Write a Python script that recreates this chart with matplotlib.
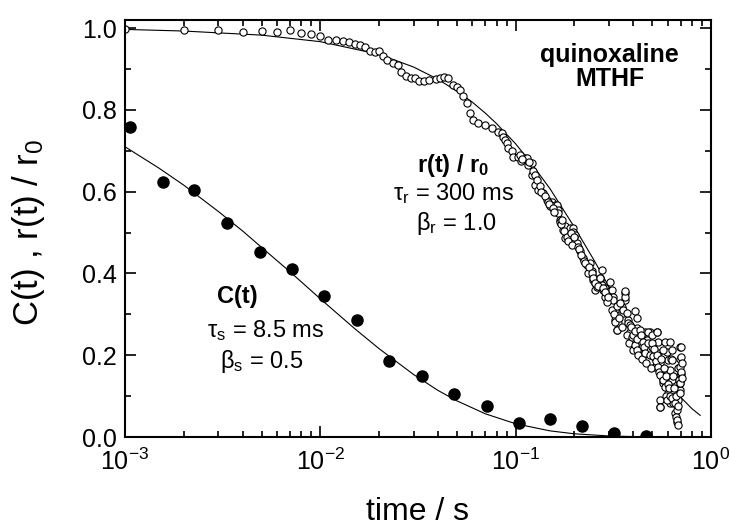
import matplotlib
matplotlib.use('Agg')
import matplotlib.pyplot as plt
from matplotlib.ticker import LogLocator, MultipleLocator, NullFormatter, FormatStrFormatter

plt.rcParams['font.family'] = ['Liberation Sans', 'DejaVu Sans']
plt.rcParams['mathtext.fontset'] = 'custom'
plt.rcParams['mathtext.rm'] = 'Liberation Sans'
plt.rcParams['mathtext.it'] = 'Liberation Sans:italic'
plt.rcParams['mathtext.bf'] = 'Liberation Sans:bold'
plt.rcParams['mathtext.default'] = 'regular'

# C(t): filled circles
c_t = [0.00106, 0.00157, 0.00225, 0.00333, 0.0049, 0.0072, 0.01045, 0.01535,
       0.0225, 0.033, 0.0483, 0.0711, 0.1045, 0.150, 0.219, 0.318, 0.463]
c_val = [0.758, 0.624, 0.604, 0.524, 0.453, 0.412, 0.345, 0.286,
         0.187, 0.149, 0.104, 0.077, 0.035, 0.043, 0.028, 0.009, 0.003]

# r(t)/r0: open circles, main trace
r_t = [0.001, 0.002, 0.003, 0.004, 0.005, 0.006, 0.007, 0.008, 0.009, 0.010,
       0.011, 0.012, 0.013, 0.014, 0.015, 0.016, 0.017, 0.018, 0.019, 0.020,
       0.021, 0.022, 0.0235, 0.025, 0.026, 0.0275, 0.029, 0.0305, 0.032, 0.034,
       0.036, 0.039, 0.041, 0.043, 0.045, 0.0478, 0.050, 0.0519, 0.0537, 0.0561,
       0.0584, 0.0605, 0.0641, 0.0697, 0.0754, 0.0812, 0.0848, 0.0861, 0.0882, 0.0900,
       0.0914, 0.0955, 0.0969, 0.1028, 0.1117, 0.114, 0.1157, 0.1208, 0.1208, 0.1256,
       0.130, 0.138, 0.144, 0.150, 0.153, 0.159, 0.162, 0.165, 0.165, 0.169,
       0.169, 0.1747, 0.179, 0.179, 0.1853, 0.190, 0.1966, 0.1966, 0.2013, 0.2053,
       0.2135, 0.2212, 0.2311, 0.2402, 0.245, 0.2451, 0.2489, 0.255, 0.255, 0.260,
       0.270, 0.2703, 0.2757, 0.276, 0.280, 0.2867, 0.287, 0.304, 0.304, 0.310,
       0.315, 0.316, 0.323, 0.323, 0.329, 0.336, 0.349, 0.356, 0.363, 0.363,
       0.363, 0.378, 0.385, 0.393, 0.400, 0.408, 0.417, 0.417, 0.433, 0.442,
       0.451, 0.460, 0.469, 0.488, 0.497, 0.507, 0.517, 0.527, 0.537, 0.537,
       0.548, 0.548, 0.548, 0.559, 0.570, 0.570, 0.582, 0.593, 0.593, 0.604,
       0.604, 0.617, 0.617, 0.629, 0.629, 0.641, 0.641, 0.654, 0.667, 0.667,
       0.681, 0.681, 0.694, 0.694, 0.694, 0.694, 0.694]
r_val = [0.997, 0.995, 0.995, 0.990, 0.994, 0.990, 0.996, 0.988, 0.985, 0.981,
         0.972, 0.970, 0.968, 0.965, 0.962, 0.958, 0.953, 0.945, 0.941, 0.943,
         0.931, 0.923, 0.915, 0.909, 0.894, 0.884, 0.878, 0.878, 0.871, 0.870,
         0.874, 0.876, 0.879, 0.880, 0.877, 0.861, 0.855, 0.849, 0.833, 0.817,
         0.793, 0.776, 0.768, 0.764, 0.756, 0.747, 0.743, 0.735, 0.727, 0.720,
         0.707, 0.700, 0.686, 0.685, 0.682, 0.683, 0.666, 0.671, 0.641, 0.617,
         0.605, 0.597, 0.580, 0.564, 0.576, 0.568, 0.568, 0.556, 0.548, 0.531,
         0.527, 0.507, 0.515, 0.486, 0.499, 0.512, 0.511, 0.502, 0.494, 0.474,
         0.454, 0.438, 0.421, 0.426, 0.396, 0.405, 0.384, 0.376, 0.360, 0.368,
         0.388, 0.384, 0.409, 0.372, 0.360, 0.343, 0.364, 0.380, 0.356, 0.360,
         0.343, 0.335, 0.311, 0.286, 0.262, 0.278, 0.319, 0.303, 0.352, 0.335,
         0.343, 0.286, 0.258, 0.237, 0.213, 0.307, 0.291, 0.266, 0.245, 0.221,
         0.201, 0.258, 0.237, 0.258, 0.221, 0.197, 0.172, 0.258, 0.233, 0.205,
         0.180, 0.091, 0.074, 0.156, 0.131, 0.139, 0.233, 0.209, 0.164, 0.188,
         0.107, 0.164, 0.082, 0.213, 0.139, 0.115, 0.082, 0.058, 0.037, 0.066,
         0.168, 0.091, 0.139, 0.115, 0.152, 0.131, 0.220]

# r(t)/r0: extra circles in the noisy tail and along the band
r_t_tail = [0.105, 0.106, 0.108, 0.117, 0.123, 0.125, 0.128, 0.133, 0.134, 0.141,
            0.147, 0.148, 0.156, 0.158, 0.171, 0.172, 0.177, 0.183, 0.186, 0.193,
            0.195, 0.199, 0.208, 0.210, 0.217, 0.225, 0.2265, 0.235, 0.236, 0.245,
            0.250, 0.255, 0.265, 0.270, 0.281, 0.285, 0.295, 0.298, 0.310, 0.320,
            0.323, 0.329, 0.330, 0.340, 0.342, 0.350, 0.355, 0.363, 0.370, 0.370,
            0.375, 0.380, 0.385, 0.390, 0.393, 0.400, 0.408, 0.410, 0.417, 0.420,
            0.425, 0.433, 0.440, 0.445, 0.451, 0.455, 0.460, 0.465, 0.475, 0.478,
            0.485, 0.490, 0.497, 0.500, 0.507, 0.510, 0.520, 0.527, 0.530, 0.537,
            0.540, 0.548, 0.548, 0.555, 0.565, 0.570, 0.575, 0.582, 0.585, 0.590,
            0.593, 0.600, 0.610, 0.617, 0.620, 0.625, 0.629, 0.635, 0.641, 0.645,
            0.654, 0.660, 0.660, 0.667, 0.675, 0.681, 0.685, 0.690, 0.694, 0.694,
            0.694, 0.700, 0.705, 0.705, 0.705, 0.712, 0.712]
r_val_tail = [0.690, 0.675, 0.680, 0.672, 0.650, 0.640, 0.628, 0.615, 0.600, 0.590,
              0.575, 0.570, 0.560, 0.550, 0.520, 0.530, 0.505, 0.490, 0.480, 0.500,
              0.470, 0.490, 0.465, 0.460, 0.445, 0.430, 0.425, 0.400, 0.415, 0.400,
              0.390, 0.376, 0.370, 0.388, 0.364, 0.355, 0.330, 0.343, 0.311, 0.300,
              0.282, 0.262, 0.320, 0.290, 0.327, 0.270, 0.310, 0.356, 0.303, 0.250,
              0.280, 0.230, 0.274, 0.270, 0.245, 0.250, 0.225, 0.260, 0.213, 0.240,
              0.200, 0.262, 0.250, 0.190, 0.233, 0.220, 0.205, 0.180, 0.230, 0.258,
              0.200, 0.170, 0.229, 0.250, 0.197, 0.215, 0.185, 0.258, 0.200, 0.172,
              0.160, 0.152, 0.074, 0.190, 0.140, 0.213, 0.170, 0.123, 0.150, 0.100,
              0.091, 0.130, 0.120, 0.233, 0.100, 0.190, 0.188, 0.095, 0.148, 0.120,
              0.082, 0.100, 0.050, 0.042, 0.075, 0.029, 0.140, 0.190, 0.172, 0.131,
              0.107, 0.155, 0.220, 0.195, 0.160, 0.180, 0.145]

# fitted curves
cfit_t = [0.001, 0.0015, 0.002, 0.003, 0.004, 0.005, 0.007, 0.01, 0.015, 0.02,
          0.03, 0.04, 0.05, 0.07, 0.1, 0.15, 0.2, 0.3, 0.4, 0.5]
cfit_val = [0.710, 0.657, 0.616, 0.552, 0.504, 0.464, 0.404, 0.338, 0.265, 0.216,
            0.153, 0.114, 0.0885, 0.0567, 0.0324, 0.015, 0.0078, 0.0026, 0.001, 0.0004]

rfit_t = [0.001, 0.002, 0.005, 0.01, 0.02, 0.03, 0.04, 0.05, 0.06, 0.07, 0.08,
          0.1, 0.12, 0.15, 0.2, 0.25, 0.3, 0.35, 0.4, 0.5, 0.6, 0.7, 0.8, 0.88]
rfit_val = [0.997, 0.993, 0.983, 0.967, 0.936, 0.905, 0.875, 0.846, 0.819, 0.792, 0.766,
            0.717, 0.670, 0.607, 0.513, 0.435, 0.368, 0.311, 0.264, 0.189, 0.135, 0.097, 0.069, 0.053]

fig = plt.figure(figsize=(7.3, 5.29), dpi=100)
ax = fig.add_axes([0.1712, 0.1739, 0.8028, 0.7883])

ax.plot(cfit_t, cfit_val, color='black', lw=0.8)
ax.plot(rfit_t, rfit_val, color='black', lw=0.8)
ax.plot(c_t, c_val, 'o', color='black', ms=8)
ax.plot(r_t + r_t_tail, r_val + r_val_tail, 'o', mfc='white', mec='black', mew=0.8, ms=5.2)

ax.set_xscale('log')
ax.set_xlim(1e-3, 1)
ax.set_ylim(0, 1.02)
ax.yaxis.set_major_locator(MultipleLocator(0.2))
ax.yaxis.set_minor_locator(MultipleLocator(0.1))
ax.yaxis.set_major_formatter(FormatStrFormatter('%.1f'))
ax.xaxis.set_major_locator(LogLocator(base=10))
ax.xaxis.set_minor_locator(LogLocator(base=10, subs=range(2, 10)))
ax.xaxis.set_minor_formatter(NullFormatter())

for s in ax.spines.values():
    s.set_linewidth(1.5)
ax.tick_params(which='both', direction='in', top=True, right=True, width=1.2, labelsize=18)
ax.tick_params(which='major', length=8, pad=6)
ax.tick_params(which='minor', length=4.5)
ax.tick_params(axis='x', which='major', pad=8)

ax.set_xlabel('time / s', fontsize=23, labelpad=16)
ax.set_ylabel('C(t) , r(t) / r$_0$', fontsize=25)
ax.yaxis.set_label_coords(-0.133, 0.489)

ax.text(0.827, 0.887, 'quinoxaline\nMTHF', transform=ax.transAxes, ha='center', va='center',
        fontsize=18, fontweight='bold', linespacing=1.0)

ax.text(0.56, 0.652, r'r(t) / r$_\mathbf{0}$', transform=ax.transAxes, ha='center', va='center',
        fontsize=17, fontweight='bold')
ax.text(0.457, 0.585, r'τ$_\mathregular{r}$ = 300 ms', transform=ax.transAxes, ha='left', va='center', fontsize=17)
ax.text(0.497, 0.512, r'β$_\mathregular{r}$ = 1.0', transform=ax.transAxes, ha='left', va='center', fontsize=17)

ax.text(0.191, 0.336, 'C(t)', transform=ax.transAxes, ha='center', va='center',
        fontsize=17, fontweight='bold')
ax.text(0.140, 0.256, r'τ$_\mathregular{s}$ = 8.5 ms', transform=ax.transAxes, ha='left', va='center', fontsize=17)
ax.text(0.162, 0.180, r'β$_\mathregular{s}$ = 0.5', transform=ax.transAxes, ha='left', va='center', fontsize=17)

fig.savefig('out.png', dpi=100)
